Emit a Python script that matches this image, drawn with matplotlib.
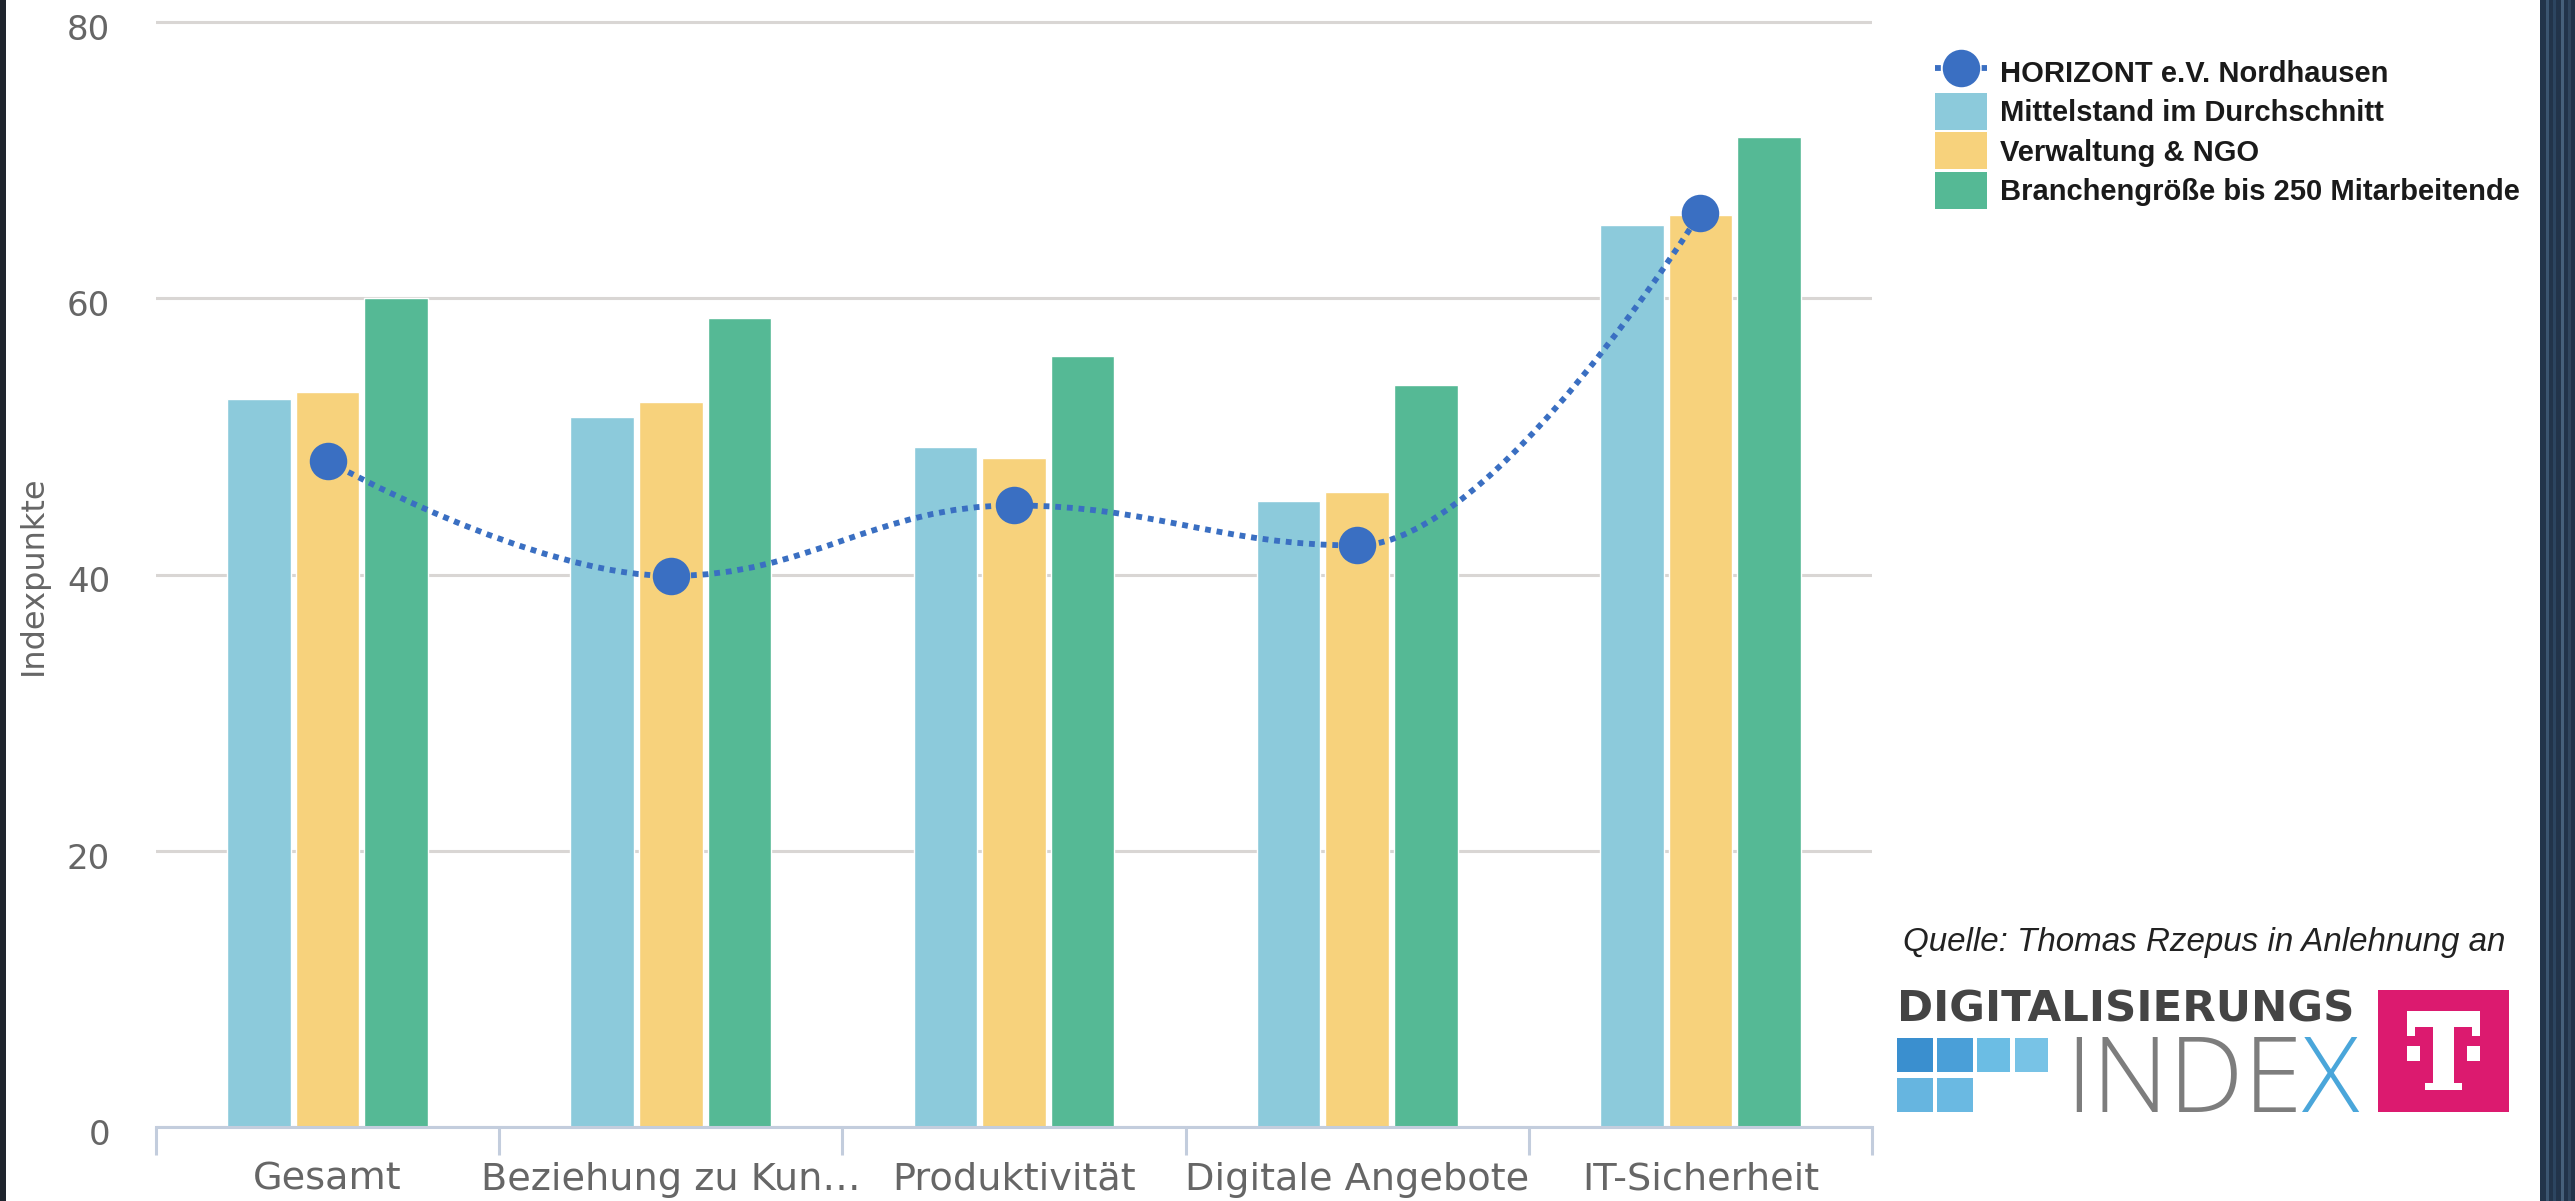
import matplotlib
matplotlib.use("Agg")
import numpy as np
import matplotlib.pyplot as plt
from matplotlib.path import Path
from matplotlib.patches import PathPatch, Rectangle, Patch
from matplotlib.lines import Line2D
import matplotlib.transforms as mtransforms

# data
categories = ["Gesamt", "Beziehung zu Kun…", "Produktivität", "Digitale Angebote", "IT-Sicherheit"]
mittelstand = [52.7, 51.4, 49.2, 45.3, 65.3]
verwaltung = [53.2, 52.5, 48.4, 46.0, 66.0]
branche = [60.0, 58.6, 55.85, 53.7, 71.7]
horizont = [48.2, 39.9, 45.0, 42.1, 66.2]
y_ticks = [0, 20, 40, 60, 80]

series_names = ["HORIZONT e.V. Nordhausen", "Mittelstand im Durchschnitt",
                "Verwaltung & NGO", "Branchengröße bis 250 Mitarbeitende"]

C_CYAN = "#8ccadb"
C_YELLOW = "#f7d27c"
C_GREEN = "#55b995"
C_BLUE = "#3a6fc2"
C_GRID = "#d9d6d4"
C_AXIS = "#c3cddd"
C_TEXT = "#666666"

W, H = 2575, 1201
fig = plt.figure(figsize=(W / 100, H / 100), dpi=100)
fig.patch.set_facecolor("#22344a")


def fx(px):
    return px / W


def fy(py):
    return 1 - py / H


def px_rect(x0, y0, x1, y1, color, z=0):
    r = Rectangle((fx(x0), fy(y1)), fx(x1) - fx(x0), fy(y0) - fy(y1),
                  transform=fig.transFigure, facecolor=color, edgecolor="none", zorder=z)
    fig.patches.append(r)
    return r


# white page + dark photo edges
px_rect(6, 0, 2540, H, "white", z=0)
px_rect(0, 0, 6, H, "#1f252e", z=0)
for x, c in [(2546, "#3b5570"), (2553, "#2c4560"), (2561, "#46607a"), (2568, "#30465e")]:
    px_rect(x, 0, x + 3, H, c, z=0)

# axes placed on the pixel grid of the reference
y_top = 81
x0_px, x1_px = 156, 1872
ybase_px, y80_px = 1127, 22
ppu = (ybase_px - y80_px) / 80
top_px = ybase_px - y_top * ppu
ax = fig.add_axes([fx(x0_px), fy(ybase_px), fx(x1_px) - fx(x0_px), fy(top_px) - fy(ybase_px)])
ax.set_facecolor("none")
ax.set_zorder(2)

x = np.arange(len(categories))
bw = 0.185
ax.bar(x - 0.2, mittelstand, bw, color=C_CYAN, edgecolor="white", linewidth=1, zorder=3)
ax.bar(x, verwaltung, bw, color=C_YELLOW, edgecolor="white", linewidth=1, zorder=3)
ax.bar(x + 0.2, branche, bw, color=C_GREEN, edgecolor="white", linewidth=1, zorder=3)


# spline like the original chart library (smoothing 1.5)
def spline_path(xs, ys, smoothing=1.5):
    n = len(xs)
    left = [(xs[i], ys[i]) for i in range(n)]
    right = [(xs[i], ys[i]) for i in range(n)]
    d = smoothing + 1
    for i in range(1, n - 1):
        px, py = xs[i], ys[i]
        lx, ly = xs[i - 1], ys[i - 1]
        nx, ny = xs[i + 1], ys[i + 1]
        lcx = (smoothing * px + lx) / d
        lcy = (smoothing * py + ly) / d
        rcx = (smoothing * px + nx) / d
        rcy = (smoothing * py + ny) / d
        corr = ((rcy - lcy) * (rcx - px)) / (rcx - lcx) + py - rcy
        lcy += corr
        rcy += corr
        if lcy > ly and lcy > py:
            lcy = max(ly, py)
            rcy = 2 * py - lcy
        elif lcy < ly and lcy < py:
            lcy = min(ly, py)
            rcy = 2 * py - lcy
        if rcy > ny and rcy > py:
            rcy = max(ny, py)
            lcy = 2 * py - rcy
        elif rcy < ny and rcy < py:
            rcy = min(ny, py)
            lcy = 2 * py - rcy
        left[i] = (lcx, lcy)
        right[i] = (rcx, rcy)
    verts = [(xs[0], ys[0])]
    codes = [Path.MOVETO]
    for i in range(1, n):
        verts += [right[i - 1], left[i], (xs[i], ys[i])]
        codes += [Path.CURVE4] * 3
    return Path(verts, codes)


dots = (0, (1, 1.0))
ax.add_patch(PathPatch(spline_path(list(x), horizont), fill=False, edgecolor=C_BLUE,
                       linewidth=4.2, linestyle=dots, capstyle="butt", zorder=4))
ax.plot(x, horizont, "o", color=C_BLUE, markersize=27, markeredgewidth=0, zorder=5)

ax.set_xlim(-0.5, len(categories) - 0.5)
ax.set_ylim(0, y_top)
ax.set_yticks(y_ticks)
ax.set_xticks(x)
ax.set_xticklabels(categories)
ax.set_xticks(np.arange(len(categories) + 1) - 0.5, minor=True)
ax.grid(axis="y", color=C_GRID, linewidth=2.2, zorder=1)
for s in ["left", "right", "top"]:
    ax.spines[s].set_visible(False)
ax.spines["bottom"].set_color(C_AXIS)
ax.spines["bottom"].set_linewidth(2.2)
ax.spines["bottom"].set_zorder(4)
ax.tick_params(axis="x", which="major", length=0, pad=25, labelsize=27.5, labelcolor=C_TEXT)
ax.tick_params(axis="x", which="minor", length=20, width=2.2, color=C_AXIS)
ax.tick_params(axis="y", length=0, pad=33, labelsize=24.5, labelcolor=C_TEXT)
shift = mtransforms.ScaledTranslation(0, -5 / 100, fig.dpi_scale_trans)
for lab in ax.get_yticklabels():
    lab.set_transform(lab.get_transform() + shift)
for lab in ax.get_xticklabels() + ax.get_yticklabels():
    lab.set_family("DejaVu Sans")

fig.text(fx(33), fy(575), "Indexpunkte", rotation=90, ha="center", va="center",
         fontsize=23, color=C_TEXT)

# legend
handles = [
    Line2D([], [], color=C_BLUE, marker="o", markersize=27, markeredgewidth=0,
           linewidth=4.2, linestyle=dots),
    Patch(facecolor=C_CYAN, edgecolor="none"),
    Patch(facecolor=C_YELLOW, edgecolor="none"),
    Patch(facecolor=C_GREEN, edgecolor="none"),
]
fs = 21
fs_px = fs * 100 / 72
leg = fig.legend(handles, series_names, loc="upper left",
                 bbox_to_anchor=(fx(1935), fy(54)), frameon=False,
                 prop={"family": "Liberation Sans", "weight": "bold", "size": fs},
                 handlelength=52 / fs_px, handleheight=1.57,
                 labelspacing=0.08, handletextpad=0.45, borderpad=0, borderaxespad=0)
for t in leg.get_texts():
    t.set_color("#1a1a1a")

# source note and logo
renderer = fig.canvas.get_renderer()


def fit_width(t, target):
    w = t.get_window_extent(renderer=renderer).width
    t.set_fontsize(t.get_fontsize() * target / w)


q = fig.text(fx(1903), fy(943), "Quelle: Thomas Rzepus in Anlehnung an", ha="left", va="center",
             fontsize=23, style="italic", family="Liberation Sans", color="#222222")
fit_width(q, 2506 - 1903)

dg = fig.text(fx(1897), fy(1021), "DIGITALISIERUNGS", ha="left", va="baseline",
              fontsize=30, weight="bold", family="DejaVu Sans", color="#444444")
fit_width(dg, 2355 - 1897)

inde = fig.text(fx(2065), fy(1112), "INDE", ha="left", va="baseline",
                fontsize=70, weight="light", family="Open Sans", color="#7d7d7d")
xx = fig.text(fx(2065), fy(1112), "X", ha="left", va="baseline",
              fontsize=70, weight="light", family="Open Sans", color="#4aa6da")
w_inde = inde.get_window_extent(renderer=renderer).width
w_x = xx.get_window_extent(renderer=renderer).width
scale = (2360 - 2065) / (w_inde + w_x)
inde.set_fontsize(70 * scale)
xx.set_fontsize(70 * scale)
w_inde = inde.get_window_extent(renderer=renderer).width
xx.set_x(fx(2065 + w_inde))

for (a, b, c, d, col) in [(1897, 1038, 1933, 1072, "#3a8fcf"), (1937, 1038, 1973, 1072, "#4a9fd8"),
                          (1977, 1038, 2010, 1072, "#6bbde4"), (2015, 1038, 2048, 1072, "#78c3e6"),
                          (1897, 1078, 1933, 1112, "#66b5e0"), (1937, 1078, 1973, 1112, "#6ab9e2")]:
    px_rect(a, b, c, d, col, z=3)

# telekom box
bx0, by0, bx1, by1 = 2378, 990, 2509, 1112
bw_, bh_ = bx1 - bx0, by1 - by0
px_rect(bx0, by0, bx1, by1, "#dc1a6f", z=3)
px_rect(bx0 + 0.22 * bw_, by0 + 0.17 * bh_, bx0 + 0.78 * bw_, by0 + 0.30 * bh_, "white", z=4)
px_rect(bx0 + 0.22 * bw_, by0 + 0.17 * bh_, bx0 + 0.28 * bw_, by0 + 0.38 * bh_, "white", z=4)
px_rect(bx0 + 0.72 * bw_, by0 + 0.17 * bh_, bx0 + 0.78 * bw_, by0 + 0.38 * bh_, "white", z=4)
px_rect(bx0 + 0.42 * bw_, by0 + 0.17 * bh_, bx0 + 0.58 * bw_, by0 + 0.80 * bh_, "white", z=4)
px_rect(bx0 + 0.36 * bw_, by0 + 0.76 * bh_, bx0 + 0.64 * bw_, by0 + 0.82 * bh_, "white", z=4)
px_rect(bx0 + 0.22 * bw_, by0 + 0.46 * bh_, bx0 + 0.32 * bw_, by0 + 0.58 * bh_, "white", z=4)
px_rect(bx0 + 0.68 * bw_, by0 + 0.46 * bh_, bx0 + 0.78 * bw_, by0 + 0.58 * bh_, "white", z=4)

fig.savefig("out.png", dpi=100, facecolor=fig.get_facecolor())
